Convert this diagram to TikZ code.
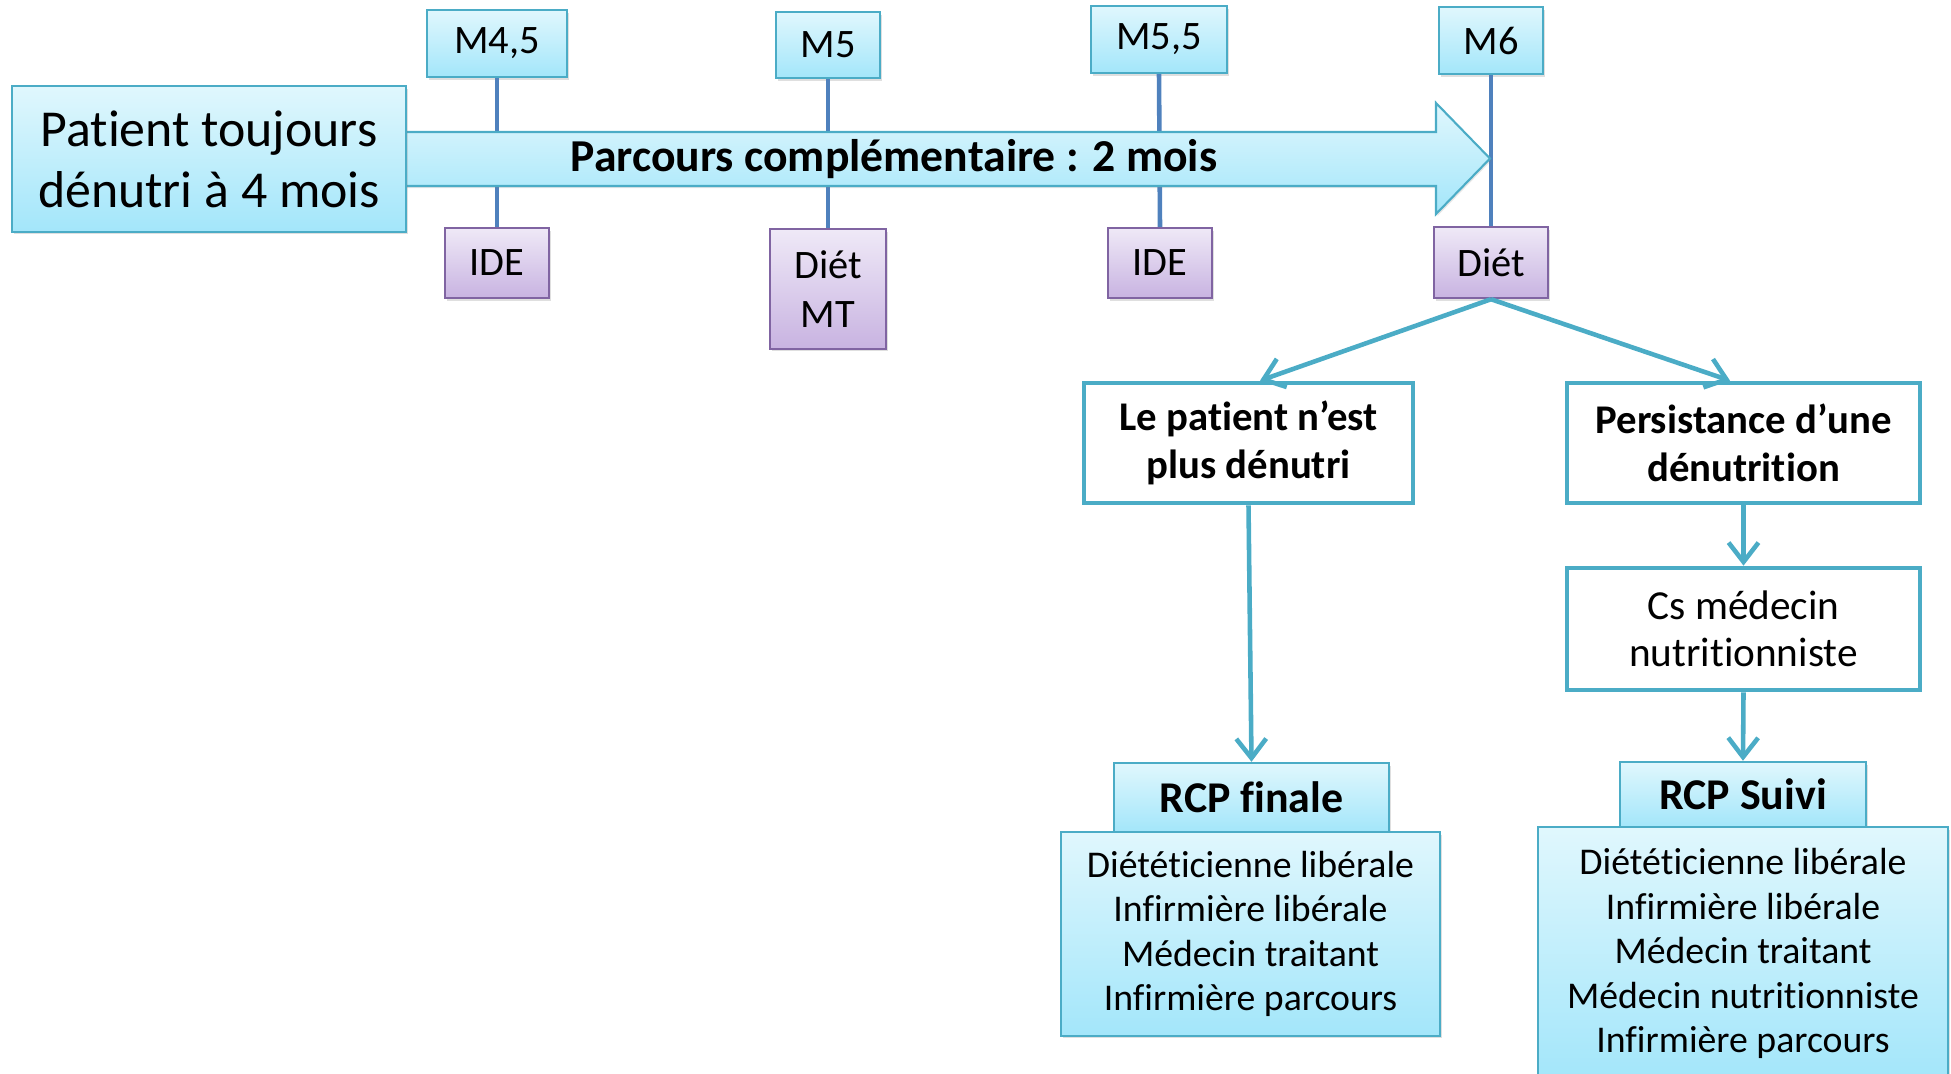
\documentclass[tikz,border=0pt]{standalone}
\usepackage{fontspec}
\setmainfont{Carlito}[Ligatures={NoCommon}]
\usetikzlibrary{arrows.meta,shadows}
\definecolor{aqua}{HTML}{4BACC6}
\definecolor{tlblue}{HTML}{4F81BD}
\definecolor{ltop}{HTML}{E0F7FD}
\definecolor{lbot}{HTML}{A3E6FA}
\definecolor{ptop}{HTML}{EFE9F7}
\definecolor{pbot}{HTML}{C8B3E1}
\definecolor{pborder}{HTML}{8064A2}
\begin{document}
\begin{tikzpicture}[x=0.02cm,y=-0.02cm,
  shad/.style={drop shadow={shadow xshift=0.04cm,shadow yshift=-0.05cm,opacity=0.25}},
  bluebox/.style={draw=aqua,line width=1.4pt,top color=ltop,bottom color=lbot,inner sep=0pt,align=center,shad},
  purplebox/.style={draw=pborder,line width=1.4pt,top color=ptop,bottom color=pbot,inner sep=0pt,align=center,shad},
  decbox/.style={draw=aqua,line width=2.7pt,fill=white,inner sep=0pt,align=center},
  tline/.style={draw=tlblue,line width=2.6pt},
  conn/.style={draw=aqua,line width=2.6pt,-{Straight Barb[length=11pt,width=17pt,line width=2.6pt]}},
  fM/.style={font=\fontsize{23}{28}\selectfont},
  fBig/.style={font=\fontsize{29.5}{34.7}\selectfont},
  fArrow/.style={font=\bfseries\fontsize{26}{30}\selectfont},
  fDec/.style={font=\bfseries\fontsize{23.2}{27.3}\selectfont},
  fCs/.style={font=\fontsize{23.5}{26.7}\selectfont},
  fRcp/.style={font=\bfseries\fontsize{25}{28}\selectfont},
  fList/.style={font=\fontsize{21.5}{25.3}\selectfont}
]
\useasboundingbox (0,0) rectangle (1951,1073);
\clip (0,0) rectangle (1951,1073);

% timeline boxes
\node[bluebox,fM,minimum width=2.8cm,minimum height=1.34cm] (m45) at (497,43.5) {M4,5};
\node[purplebox,fM,minimum width=2.08cm,minimum height=1.4cm] (ide1) at (497,263) {IDE};
\node[bluebox,fM,minimum width=2.08cm,minimum height=1.32cm] (m5) at (828,45) {M5};
\node[purplebox,fM,minimum width=2.32cm,minimum height=2.4cm] (dietmt) at (828,289) {Diét\\MT};
\node[bluebox,fM,minimum width=2.72cm,minimum height=1.34cm] (m55) at (1159,39.5) {M5,5};
\node[purplebox,fM,minimum width=2.08cm,minimum height=1.4cm] (ide2) at (1160,263) {IDE};
\node[bluebox,fM,minimum width=2.08cm,minimum height=1.34cm] (m6) at (1491,40.5) {M6};
\node[purplebox,fM,minimum width=2.28cm,minimum height=1.42cm] (diet) at (1491,262.5) {Diét};

% timeline lines
\draw[tline] (m45.south) -- (ide1.north);
\draw[tline] (m5.south) -- (dietmt.north);
\draw[tline] (m55.south) -- (ide2.north);
\draw[tline] (m6.south) -- (diet.north);

% big arrow
\draw[draw=aqua,line width=1.2pt,top color=ltop,bottom color=lbot,
  drop shadow={shadow xshift=0.03cm,shadow yshift=-0.04cm,opacity=0.2}]
  (390,132) -- (1436,132) -- (1436,103) -- (1490,158.5) -- (1436,214) -- (1436,186) -- (390,186) -- cycle;
\node[fArrow] (arrowlbl) at (894,159) {Parcours complémentaire : 2 mois};

% patient box
\node[bluebox,fBig,minimum width=7.88cm,minimum height=2.92cm] (patient) at (209,159) {Patient toujours\\dénutri à 4 mois};

% decision boxes
\node[decbox,fDec,minimum width=6.58cm,minimum height=2.4cm] (dec1) at (1248.5,443) {Le patient n’est\\plus dénutri};
\node[decbox,fDec,minimum width=7.06cm,minimum height=2.4cm] (dec2) at (1743.5,443) {Persistance d’une\\dénutrition};
\node[decbox,fCs,minimum width=7.06cm,minimum height=2.44cm] (cs) at (1743.5,629) {Cs médecin\\nutritionniste};

% RCP blocks
\node[bluebox,fRcp,minimum width=5.5cm,minimum height=1.38cm] (rcpfh) at (1251.5,797.5) {RCP finale};
\node[bluebox,fList,minimum width=7.58cm,minimum height=4.08cm] (rcpfl) at (1250.5,934) {Diététicienne libérale\\Infirmière libérale\\Médecin traitant\\Infirmière parcours};
\node[bluebox,fRcp,minimum width=4.92cm,minimum height=1.3cm] (rcpsh) at (1743,794.5) {RCP Suivi};
\node[bluebox,fList,minimum width=8.2cm,minimum height=5.06cm] (rcpsl) at (1743,953.5) {Diététicienne libérale\\Infirmière libérale\\Médecin traitant\\Médecin nutritionniste\\Infirmière parcours};

% connectors
\draw[conn] (diet.south) -- ([xshift=0.23cm]dec1.north);
\draw[conn] (diet.south) -- ([xshift=-0.27cm]dec2.north);
\draw[conn] (dec1.south) -- (rcpfh.north);
\draw[conn] (dec2.south) -- (cs.north);
\draw[conn] (cs.south) -- (rcpsh.north);
\end{tikzpicture}
\end{document}
